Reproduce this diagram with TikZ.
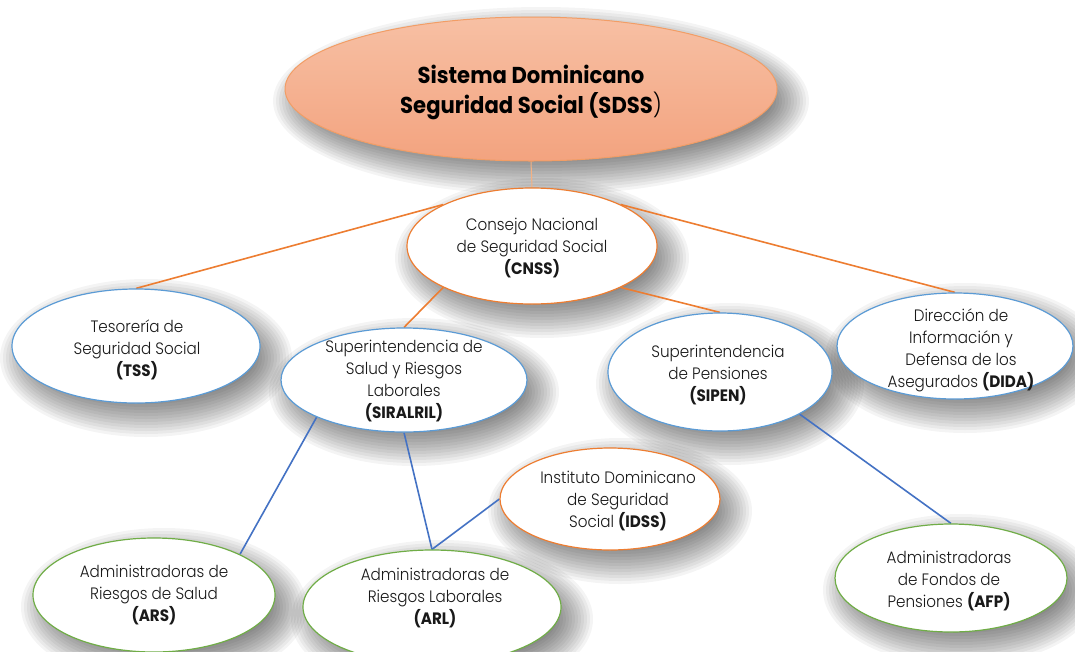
\documentclass[tikz,border=0pt]{standalone}
\usepackage{fontspec}
\setmainfont{Poppins}[UprightFont={* Light},BoldFont={* Bold},FakeStretch=0.92]
\usetikzlibrary{shapes.geometric,calc}
\pgfdeclarelayer{bg}
\pgfdeclarelayer{shadow}
\pgfdeclarelayer{lines}
\pgfsetlayers{bg,shadow,lines,main}
\definecolor{ornge}{RGB}{237,125,49}
\definecolor{lightornge}{RGB}{244,177,131}
\definecolor{blu}{RGB}{91,155,213}
\definecolor{grn}{RGB}{112,173,71}
\definecolor{lineblue}{RGB}{68,114,196}
\definecolor{sdsstop}{RGB}{247,192,164}
\definecolor{sdssbot}{RGB}{243,163,127}
\definecolor{txtc}{RGB}{25,25,25}
\tikzset{
  ellbase/.style={ellipse, inner sep=0pt, fill=white, line width=1.2pt},
  ello/.style={ellbase, draw=ornge},
  ellb/.style={ellbase, draw=blu},
  ellg/.style={ellbase, draw=grn},
  ells/.style={ellipse, inner sep=0pt, draw=ornge!75, line width=1pt, top color=sdsstop, bottom color=sdssbot},
  txt/.style={align=center, font=\fontsize{16.5}{22}\selectfont, text=txtc, inner sep=0pt},
  ttl/.style={align=center, font=\fontsize{23}{30}\selectfont\bfseries, text=black, inner sep=0pt},
  oline/.style={draw=ornge, line width=1.6pt},
  thinoline/.style={draw=lightornge, line width=1pt},
  bline/.style={draw=lineblue, line width=1.6pt},
}
% name, x, y, rx, ry, style
\newcommand{\ellip}[6]{%
  \begin{pgfonlayer}{shadow}
    \foreach \k in {0,...,12}{%
      \pgfmathsetmacro\rxs{#4-14+3*\k}%
      \pgfmathsetmacro\rys{#5-14+3*\k}%
      \fill[black,opacity=0.045] (#2+10,#3+12) ellipse [x radius=\rxs pt, y radius=\rys pt];
    }
  \end{pgfonlayer}
  \node[#6, minimum width=2pt*#4, minimum height=2pt*#5] (#1) at (#2,#3) {};
}
\begin{document}
\begin{tikzpicture}[x=1pt,y=-1pt]
\useasboundingbox (0,0) rectangle (1075,651);
\begin{pgfonlayer}{bg}
  \fill[white] (0,0) rectangle (1075,651);
\end{pgfonlayer}

\ellip{sdss}{531}{89}{246}{72}{ells}
\ellip{cnss}{532}{246}{125}{58}{ello}
\ellip{tss}{136}{346}{124}{57}{ellb}
\ellip{siralril}{404}{380}{123}{52}{ellb}
\ellip{sipen}{720}{372}{112}{59}{ellb}
\ellip{dida}{955}{346}{118}{53}{ellb}
\ellip{idss}{610}{499}{110}{51}{ello}
\ellip{ars}{154}{595}{121}{57}{ellg}
\ellip{arl}{432}{607}{129}{57}{ellg}
\ellip{afp}{951}{578}{116}{54}{ellg}

\node[ttl] (sdss-t) at (531,92) {Sistema Dominicano\\Seguridad Social (SDSS\textmd{)}};
\node[txt] (cnss-t) at (532,248) {Consejo Nacional\\de Seguridad Social\\\textbf{(CNSS)}};
\node[txt] (tss-t) at (137,350) {Tesorería de\\Seguridad Social\\\textbf{(TSS)}};
\node[txt] (siralril-t) at (404,381) {Superintendencia de\\Salud y Riesgos\\Laborales\\\textbf{(SIRALRIL)}};
\node[txt] (sipen-t) at (718,375) {Superintendencia\\de Pensiones\\\textbf{(SIPEN)}};
\node[txt] (dida-t) at (961,350) {Dirección de\\Información y\\Defensa de los\\Asegurados \textbf{(DIDA)}};
\node[txt] (idss-t) at (618,501) {Instituto Dominicano\\de Seguridad\\Social \textbf{(IDSS)}};
\node[txt] (ars-t) at (154,595) {Administradoras de\\Riesgos de Salud\\\textbf{(ARS)}};
\node[txt] (arl-t) at (435,598) {Administradoras de\\Riesgos Laborales\\\textbf{(ARL)}};
\node[txt] (afp-t) at (949,581) {Administradoras\\de Fondos de\\Pensiones \textbf{(AFP)}};

\begin{pgfonlayer}{lines}
  \draw[thinoline] (sdss.south) -- (cnss.north);
  \draw[oline] (cnss.north west) -- (tss.north);
  \draw[oline] (cnss.north east) -- (dida.north);
  \draw[oline] (cnss.south west) -- (siralril.north);
  \draw[oline] (cnss.south east) -- (sipen.north);
  \draw[bline] (siralril.south west) -- (ars.north east);
  \draw[bline] (siralril.south) -- (arl.north);
  \draw[bline] (idss.west) -- (arl.north);
  \draw[bline] (sipen.south east) -- (afp.north);
\end{pgfonlayer}
\end{tikzpicture}
\end{document}
